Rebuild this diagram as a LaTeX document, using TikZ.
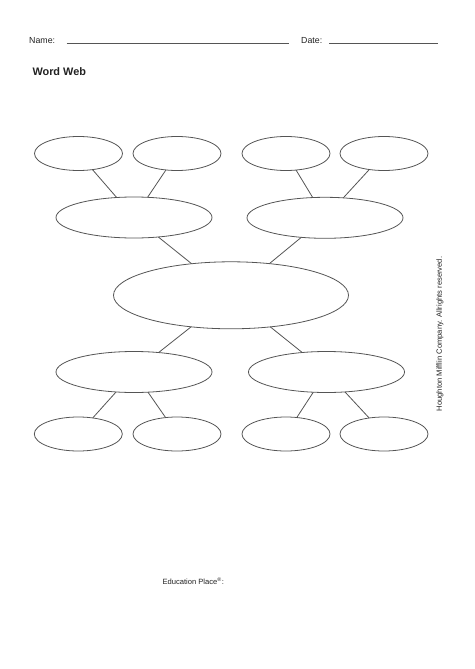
\documentclass[tikz,border=0pt]{standalone}
\usepackage{fontspec}
\setmainfont{Liberation Sans}
\usetikzlibrary{shapes.geometric}
\definecolor{inkgray}{HTML}{555555}
\definecolor{txtgray}{HTML}{222222}
\tikzset{
  bubble/.style={ellipse, draw=inkgray, line width=0.8pt, inner sep=0pt, outer sep=0pt},
  small/.style={bubble, minimum width=88pt, minimum height=34pt},
  mid/.style={bubble, minimum width=156pt, minimum height=41pt},
  big/.style={bubble, minimum width=235pt, minimum height=67pt},
  link/.style={draw=inkgray, line width=0.8pt},
  rule/.style={draw=inkgray, line width=0.8pt},
  label/.style={text=txtgray, inner sep=0pt, anchor=west}
}
\begin{document}
\begin{tikzpicture}[x=1pt, y=-1pt]
\useasboundingbox (0,0) rectangle (474,669);
% header
\node[label, font=\fontsize{8.8}{10}\selectfont] (name) at (29,41) {Name:};
\node[label, font=\fontsize{8.8}{10}\selectfont] (date) at (301,41) {Date:};
\coordinate (n1) at (66.7,43.3); \coordinate (n2) at (289.3,43.3);
\coordinate (d1) at (329.3,43.3); \coordinate (d2) at (437.7,43.3);
\draw[rule] (n1) -- (n2);
\draw[rule] (d1) -- (d2);
\node[label, font=\fontsize{10.9}{12}\selectfont\bfseries] (title) at (32.3,72) {Word Web};
% ellipses
\node[small] (s1) at (78.5,153.5) {};
\node[small] (s2) at (177,153.5) {};
\node[small] (s3) at (286,153.5) {};
\node[small] (s4) at (384,153.5) {};
\node[mid] (m1) at (134,217.5) {};
\node[mid] (m2) at (325,217.8) {};
\node[big] (c) at (231,295.3) {};
\node[mid] (m3) at (134,372) {};
\node[mid] (m4) at (326.5,372) {};
\node[small] (b1) at (78.3,434) {};
\node[small] (b2) at (177,434) {};
\node[small] (b3) at (286,434) {};
\node[small] (b4) at (384,434) {};
% links
\draw[link] (s1) -- (m1);
\draw[link] (s2) -- (m1);
\draw[link] (s3) -- (m2);
\draw[link] (s4) -- (m2);
\draw[link] (m1) -- (c);
\draw[link] (m2) -- (c);
\draw[link] (c) -- (m3);
\draw[link] (c) -- (m4);
\draw[link] (m3) -- (b1);
\draw[link] (m3) -- (b2);
\draw[link] (m4) -- (b3);
\draw[link] (m4) -- (b4);
% footer texts
\node[label, font=\fontsize{7.6}{9}\selectfont] (edu) at (162.3,581) {Education Place\textsuperscript{®}:};
\node[text=txtgray, inner sep=0pt, rotate=90, font=\fontsize{7.6}{9}\selectfont] (copy) at (440,334) {Houghton Mifflin Company. Allrights reserved.};
\end{tikzpicture}
\end{document}
